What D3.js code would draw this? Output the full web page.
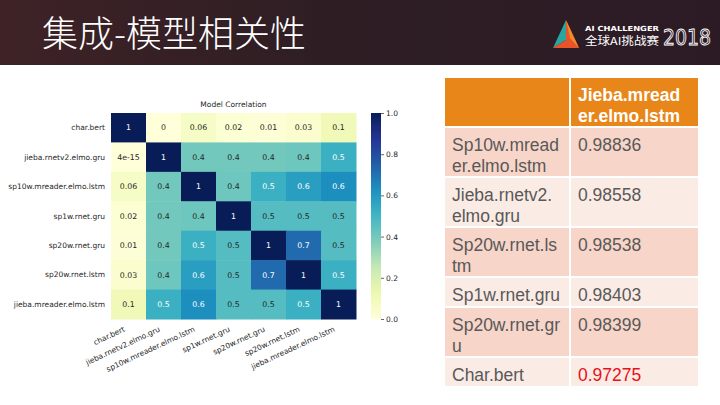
<!DOCTYPE html>
<html>
<head>
<meta charset="utf-8">
<script src="https://cdn.jsdelivr.net/npm/d3@7"></script>
<style>
  html, body { margin: 0; padding: 0; background: #fff; }
  svg { display: block; }
</style>
</head>
<body>
<div id="slide"></div>
<script>
// heatmap data (model correlation)
var models = ['char.bert', 'jieba.rnetv2.elmo.gru', 'sp10w.mreader.elmo.lstm', 'sp1w.rnet.gru',
  'sp20w.rnet.gru', 'sp20w.rnet.lstm', 'jieba.mreader.elmo.lstm'];
var corr = [
  [1, 0, 0.06, 0.02, 0.01, 0.03, 0.1],
  [4e-15, 1, 0.4, 0.4, 0.4, 0.41, 0.52],
  [0.06, 0.4, 1, 0.41, 0.52, 0.58, 0.63],
  [0.02, 0.4, 0.41, 1, 0.46, 0.46, 0.46],
  [0.01, 0.4, 0.52, 0.46, 1, 0.72, 0.46],
  [0.03, 0.41, 0.58, 0.46, 0.72, 1, 0.52],
  [0.1, 0.52, 0.63, 0.46, 0.46, 0.52, 1]
];
var cbarTicks = [0, 0.2, 0.4, 0.6, 0.8, 1.0];

// table data
var tableHead = ['', 'Jieba.mreader.elmo.lstm'];
var tableNames = ['Sp10w.mreader.elmo.lstm', 'Jieba.rnetv2.elmo.gru', 'Sp20w.rnet.lstm',
  'Sp1w.rnet.gru', 'Sp20w.rnet.gru', 'Char.bert'];
var tableScores = [0.98836, 0.98558, 0.98538, 0.98403, 0.98399, 0.97275];

var W = 720, H = 405;
var svg = d3.select('#slide').append('svg').attr('width', W).attr('height', H);

// ---- header band ----
var defs = svg.append('defs');
var bg = defs.append('linearGradient').attr('id', 'hdr').attr('x1', 0).attr('x2', 1).attr('y1', 0).attr('y2', 0);
bg.append('stop').attr('offset', '0%').attr('stop-color', '#3e2226');
bg.append('stop').attr('offset', '45%').attr('stop-color', '#2e1e24');
bg.append('stop').attr('offset', '100%').attr('stop-color', '#2c1b25');
svg.append('rect').attr('width', W).attr('height', 65).attr('fill', 'url(#hdr)');

svg.append('text')
  .attr('x', 42).attr('y', 47)
  .attr('fill', '#fff')
  .style('font-family', '"Noto Sans CJK SC", sans-serif')
  .style('font-weight', 300)
  .style('font-size', '36px')
  .text('集成-模型相关性');

// logo
var logo = svg.append('g');
logo.append('path').attr('d', 'M566,20 L553,48 L566,40 Z').attr('fill', '#2aa6a0');
logo.append('path').attr('d', 'M566,20 L566,40 L553,48 L579,48 Z').attr('fill', '#e8542a');
logo.append('path').attr('d', 'M566,20 L579,48 L570,38 Z').attr('fill', '#f08a2c');
logo.append('text').attr('x', 585).attr('y', 31).attr('fill', '#fff')
  .attr('textLength', 74).attr('lengthAdjust', 'spacingAndGlyphs')
  .style('font-family', 'DejaVu Sans, sans-serif').style('font-size', '7px').style('font-weight', 'bold')
  .text('AI CHALLENGER');
logo.append('text').attr('x', 585).attr('y', 45).attr('fill', '#fff')
  .attr('textLength', 74).attr('lengthAdjust', 'spacingAndGlyphs')
  .style('font-family', '"Noto Sans CJK SC", sans-serif').style('font-size', '11px')
  .text('全球AI挑战赛');
logo.append('text').attr('x', 663).attr('y', 45).attr('fill', 'none').attr('stroke', '#fff').attr('stroke-width', 0.9)
  .attr('textLength', 48).attr('lengthAdjust', 'spacingAndGlyphs')
  .style('font-family', 'DejaVu Sans, sans-serif').style('font-size', '22px')
  .text('2018');

// ---- heatmap ----
var font = 'DejaVu Sans, sans-serif';
var hm = { x: 111, y: 113, w: 245, h: 206 };
var x = d3.scaleBand().domain(d3.range(models.length)).range([hm.x, hm.x + hm.w]);
var y = d3.scaleBand().domain(d3.range(models.length)).range([hm.y, hm.y + hm.h]);
var brewer = ['#ffffd9', '#edf8b1', '#c7e9b4', '#7fcdbb', '#41b6c4', '#1d91c0', '#225ea8', '#253494', '#081d58'];
var color = d3.scaleLinear().domain(d3.range(9).map(function(i){ return i / 8; })).range(brewer).clamp(true);
var fmt = d3.format('.1g');

function lum(c) {
  var rgb = d3.rgb(c);
  var f = function(v){ v /= 255; return v <= 0.03928 ? v / 12.92 : Math.pow((v + 0.055) / 1.055, 2.4); };
  return 0.2126 * f(rgb.r) + 0.7152 * f(rgb.g) + 0.0722 * f(rgb.b);
}

var cells = [];
corr.forEach(function(row, i){
  row.forEach(function(v, j){ cells.push({ r: i, c: j, v: v }); });
});

var heat = svg.append('g');
heat.selectAll('rect').data(cells).enter().append('rect')
  .attr('x', function(d){ return x(d.c); })
  .attr('y', function(d){ return y(d.r); })
  .attr('width', x.bandwidth() + 0.5)
  .attr('height', y.bandwidth() + 0.5)
  .attr('fill', function(d){ return color(d.v); });

heat.selectAll('text').data(cells).enter().append('text')
  .attr('x', function(d){ return x(d.c) + x.bandwidth() / 2; })
  .attr('y', function(d){ return y(d.r) + y.bandwidth() / 2; })
  .attr('dy', '0.35em')
  .attr('text-anchor', 'middle')
  .attr('fill', function(d){ return lum(color(d.v)) > 0.408 ? '#262626' : '#fff'; })
  .style('font-family', font).style('font-size', '7.8px')
  .text(function(d){ return fmt(d.v); });

svg.append('text')
  .attr('x', hm.x + hm.w / 2).attr('y', 107)
  .attr('text-anchor', 'middle').attr('fill', '#262626')
  .style('font-family', font).style('font-size', '7.5px')
  .text('Model Correlation');

// y labels
svg.append('g').selectAll('text').data(models).enter().append('text')
  .attr('x', hm.x - 6)
  .attr('y', function(d, i){ return y(i) + y.bandwidth() / 2; })
  .attr('dy', '0.35em').attr('text-anchor', 'end').attr('fill', '#262626')
  .style('font-family', font).style('font-size', '7.5px')
  .text(function(d){ return d; });

// x labels
svg.append('g').selectAll('text').data(models).enter().append('text')
  .attr('transform', function(d, i){
    return 'translate(' + (x(i) + x.bandwidth() / 2 - 3) + ',' + (hm.y + hm.h + 12) + ') rotate(-25)';
  })
  .attr('text-anchor', 'end').attr('fill', '#262626')
  .style('font-family', font).style('font-size', '7.5px')
  .text(function(d){ return d; });

// colorbar
var cb = { x: 371, y: 113, w: 10, h: 206 };
var cbScale = d3.scaleLinear().domain([0, 1]).range([cb.y + cb.h, cb.y]);
var cg = defs.append('linearGradient').attr('id', 'cbar').attr('x1', 0).attr('x2', 0).attr('y1', 1).attr('y2', 0);
brewer.forEach(function(c, i){
  cg.append('stop').attr('offset', (i / 8 * 100) + '%').attr('stop-color', c);
});
svg.append('rect').attr('x', cb.x).attr('y', cb.y).attr('width', cb.w).attr('height', cb.h).attr('fill', 'url(#cbar)');
var cbAxis = svg.append('g')
  .attr('transform', 'translate(' + (cb.x + cb.w) + ',0)')
  .call(d3.axisRight(cbScale).tickValues(cbarTicks).tickFormat(d3.format('.1f')).tickSize(3).tickPadding(2));
cbAxis.select('.domain').remove();
cbAxis.selectAll('line').attr('stroke', '#262626').attr('stroke-width', 0.7);
cbAxis.selectAll('text').attr('fill', '#262626').style('font-family', font).style('font-size', '7.5px');

// ---- table ----
var tb = { x: 445, y: 78, c1: 124, c2: 127, gap: 2 };
var tFont = '"Liberation Sans", Arial, sans-serif';
var tSize = 17.5;
var maxW = tSize * 6.25;
var table = svg.append('g');

function wrap(str, bold) {
  var probe = table.append('text').style('font-family', tFont).style('font-size', tSize + 'px')
    .style('font-weight', bold ? 'bold' : 'normal');
  var lines = [], cur = '';
  str.split('').forEach(function(ch){
    probe.text(cur + ch);
    if (cur && probe.node().getComputedTextLength() > maxW) { lines.push(cur); cur = ch; }
    else cur += ch;
  });
  if (cur) lines.push(cur);
  probe.remove();
  return lines;
}

var rows = [{ a: tableHead[0], b: tableHead[1], head: true }];
tableNames.forEach(function(n, i){ rows.push({ a: n, b: tableScores[i].toFixed(5), head: false, last: i === tableNames.length - 1 }); });

var ty = tb.y;
rows.forEach(function(r, i){
  var la = wrap(r.a, r.head), lb = wrap(r.b, r.head);
  var n = Math.max(la.length, lb.length, 1);
  var h = 10 + 20 * n;
  var fill = r.head ? '#e8861a' : (i % 2 === 1 ? '#f7d5c8' : '#fbebe5');
  table.append('rect').attr('x', tb.x).attr('y', ty).attr('width', tb.c1).attr('height', h - tb.gap).attr('fill', fill);
  table.append('rect').attr('x', tb.x + tb.c1 + tb.gap).attr('y', ty).attr('width', tb.c2).attr('height', h - tb.gap).attr('fill', fill);
  [[la, tb.x + 7], [lb, tb.x + tb.c1 + tb.gap + 7]].forEach(function(p, k){
    var t = table.append('text')
      .attr('fill', r.head ? '#fff' : (r.last && k === 1 ? '#e8101a' : '#595959'))
      .style('font-family', tFont).style('font-size', tSize + 'px')
      .style('font-weight', r.head ? 'bold' : 'normal');
    p[0].forEach(function(line, li){
      t.append('tspan').attr('x', p[1]).attr('y', ty + 23 + li * 20.5).text(line);
    });
  });
  ty += h;
});
</script>
</body>
</html>
